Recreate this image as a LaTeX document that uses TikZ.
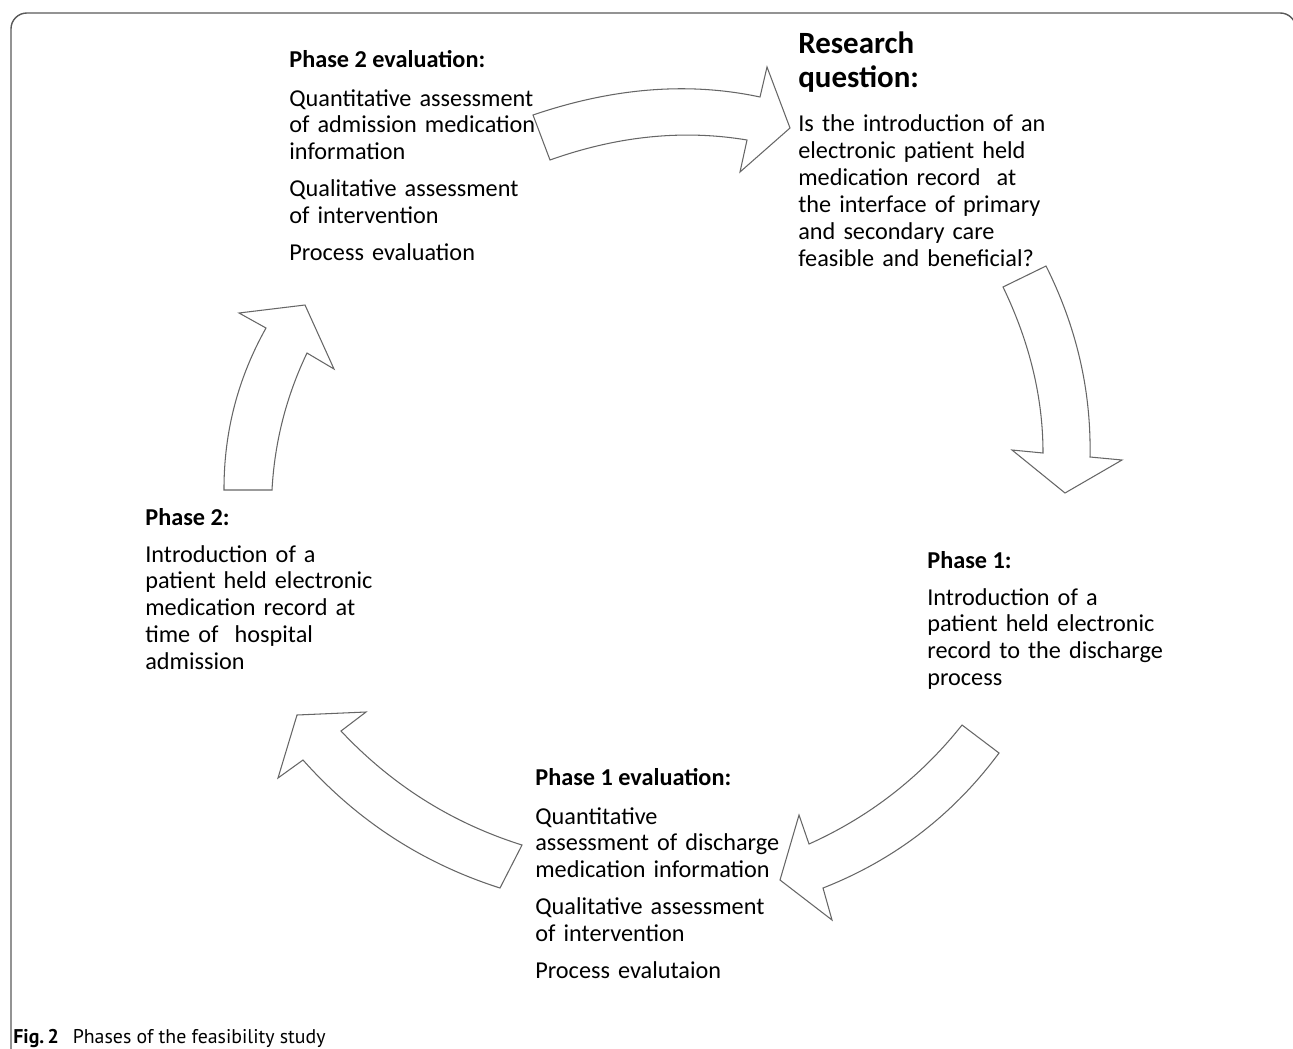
\documentclass[tikz,border=0pt]{standalone}
\usepackage{fontspec}
\setmainfont{Carlito}
\newfontfamily\capfont{PT Sans}

\begin{document}
\begin{tikzpicture}[x=0.02cm,y=-0.02cm]
  % Define styles for arrows and texts
  \tikzset{
    blockarrow/.style={
      draw=black!60,
      line width=0.6pt,
      fill=white,
      line join=miter
    },
    heading/.style={
      anchor=base west,
      inner sep=0pt,
      font=\fontsize{13.8}{15.3}\selectfont\bfseries
    },
    bodytext/.style={
      anchor=base west,
      inner sep=0pt,
      text width=6cm,
      align=left,
      font=\fontsize{13.8}{15.3}\selectfont
    }
  }
  \useasboundingbox (0,0) rectangle (1293,1048);

  % Frame round the figure
  \begin{scope}
    \clip (0,0) rectangle (1293,1048);
    \draw[black!65, line width=0.8pt, rounded corners=9] (11,1070) -- (11,13) -- (1296,13) -- (1296,1070);
  \end{scope}

  % Curved arrows of the cycle
  \draw[blockarrow] (533,115) .. controls (613,87.7) and (688.7,81.7) .. (760,97) -- (767,67) -- (790,128) -- (740,172) -- (747,140) .. controls (683,129.3) and (617.3,136) .. (550,160) -- cycle;
  \draw[blockarrow] (1046,266) .. controls (1076.7,327.3) and (1091.3,391) .. (1090,457) -- (1122,460) -- (1065,493) -- (1012,450) -- (1043,453) .. controls (1043,397.7) and (1029.7,342.3) .. (1003,287) -- cycle;
  \draw[blockarrow] (999,753) .. controls (953,815) and (894.3,860) .. (823,888) -- (832,920) -- (780,880) -- (799,815) -- (809,844) .. controls (869.7,816.7) and (920.7,777) .. (962,725) -- cycle;
  \draw[blockarrow] (303,760) .. controls (357,820.7) and (422.7,863.3) .. (500,888) -- (522,845) .. controls (452,823) and (391.7,785) .. (341,731) -- (366,712) -- (297,715) -- (278,778) -- cycle;
  \draw[blockarrow] (224,490) .. controls (223.8,432.3) and (237.8,378.3) .. (266,328) -- (239,313) -- (305,305) -- (334,369) -- (307,353) .. controls (286.3,396.3) and (274.6,442) .. (272,490) -- cycle;

  % Phase 2 evaluation
  \node[heading] (evaltwohead) at (289,67.5) {Phase 2 evaluation:};
  \node[bodytext] (evaltwo) at (289,106) {Quantitative assessment\\ of admission medication\\ information\\[0.2cm] Qualitative assessment\\ of intervention\\[0.2cm] Process evaluation};

  % Research question
  \node[anchor=base west, inner sep=0pt, text width=5cm, align=left, font=\fontsize{17.6}{19.8}\selectfont\bfseries] (questionhead) at (798,53) {Research\\ question:};
  \node[bodytext] (question) at (798,131.7) {Is the introduction of an\\ electronic patient held\\ medication record~ at\\ the interface of primary\\ and secondary care\\ feasible and beneficial?};

  % Phase 1
  \node[heading] (phaseonehead) at (927,568) {Phase 1:};
  \node[bodytext] (phaseone) at (927,605) {Introduction of a\\ patient held electronic\\ record to the discharge\\ process};

  % Phase 1 evaluation
  \node[heading] (evalonehead) at (535,785) {Phase 1 evaluation:};
  \node[bodytext] (evalone) at (535,824) {Quantitative\\ assessment of discharge\\ medication information\\[0.2cm] Qualitative assessment\\ of intervention\\[0.2cm] Process evalutaion};

  % Phase 2
  \node[heading] (phasetwohead) at (145,525) {Phase 2:};
  \node[bodytext] (phasetwo) at (145,562) {Introduction of a\\ patient held electronic\\ medication record at\\ time of~ hospital\\ admission};

  % Caption
  \node[anchor=base west, inner sep=0pt, font=\capfont\fontsize{11.3}{13}\selectfont] (caption) at (13,1043) {\textbf{Fig.\,2}\hspace{0.7em}Phases of the feasibility study};
\end{tikzpicture}
\end{document}
